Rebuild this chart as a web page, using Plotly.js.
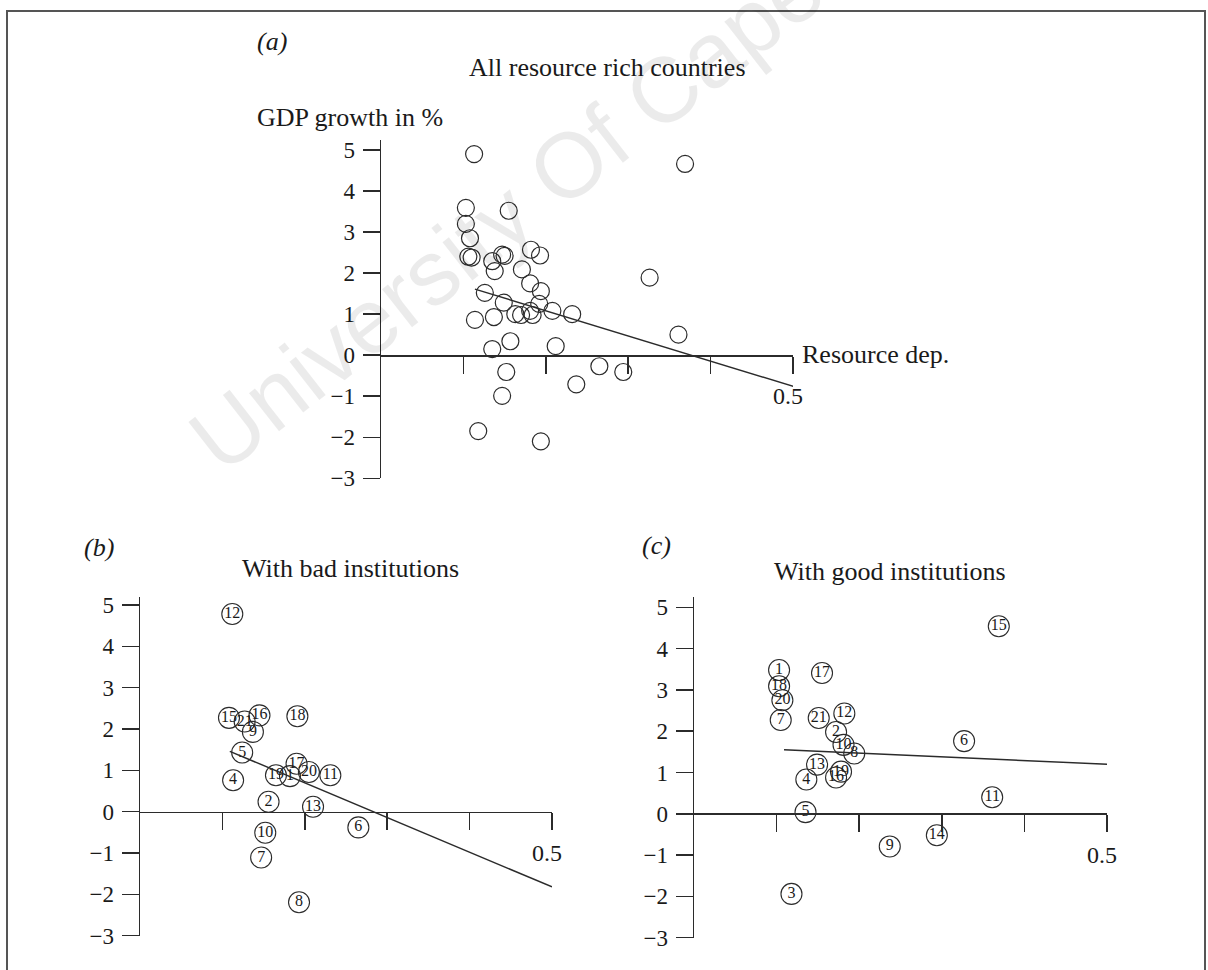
<!DOCTYPE html>
<html><head><meta charset="utf-8">
<script src="https://cdn.plot.ly/plotly-3.0.1.min.js"></script>
<style>html,body{margin:0;padding:0;background:#fff}#chart{width:1208px;height:970px}</style>
</head><body><div id="chart"></div>
<script>
// ---- Panel (a): all resource rich countries ----
const allX = [0.113,0.369,0.103,0.155,0.103,0.108,0.106,0.110,0.147,0.150,0.182,0.193,0.135,0.138,0.171,0.326,0.181,0.194,0.126,0.149,0.192,0.114,0.137,0.163,0.170,0.181,0.184,0.208,0.232,0.361,0.157,0.135,0.212,0.265,0.294,0.152,0.237,0.147,0.118,0.194,0.508,0.544];
const allY = [4.90,4.66,3.59,3.52,3.20,2.85,2.40,2.38,2.45,2.42,2.57,2.43,2.29,2.05,2.09,1.89,1.75,1.56,1.52,1.28,1.25,0.86,0.93,1.00,0.98,1.08,0.98,1.08,1.00,0.50,0.34,0.15,0.22,-0.27,-0.41,-0.41,-0.71,-0.99,-1.85,-2.10,-1.33,-1.73];
const fitAllX = [0.114,0.502];
const fitAllY = [1.61,-0.77];

// ---- Panel (b): bad institutions ----
const badId = ['12','15','21','16','9','18','5','17','19','1','20','11','4','2','13','6','10','7','8','3','14'];
const badX = [0.112,0.108,0.127,0.145,0.137,0.191,0.124,0.190,0.165,0.182,0.205,0.231,0.113,0.156,0.210,0.265,0.152,0.147,0.193,0.508,0.543];
const badY = [4.78,2.27,2.18,2.33,1.93,2.31,1.43,1.16,0.88,0.86,0.96,0.88,0.76,0.24,0.12,-0.38,-0.51,-1.11,-2.19,-1.43,-1.82];
const fitBadX = [0.109,0.500];
const fitBadY = [1.46,-1.82];

// ---- Panel (c): good institutions ----
const goodId = ['15','1','17','18','20','7','21','12','2','10','8','6','13','19','16','4','11','5','14','9','3'];
const goodX = [0.369,0.103,0.155,0.103,0.107,0.105,0.151,0.182,0.172,0.181,0.194,0.327,0.149,0.178,0.172,0.136,0.361,0.135,0.294,0.237,0.118];
const goodY = [4.54,3.48,3.41,3.09,2.75,2.27,2.32,2.43,1.98,1.67,1.46,1.76,1.19,1.02,0.88,0.83,0.40,0.04,-0.52,-0.79,-1.94];
const fitGoodX = [0.109,0.501];
const fitGoodY = [1.55,1.20];

// ---- Axes ticks / texts ----
const yTicks = [-3,-2,-1,0,1,2,3,4,5];
const xTicks = [0.1,0.2,0.3,0.4,0.5];
const xTickText = ['','','','','0.5'];
const panelTitles = ['All resource rich countries','With bad institutions','With good institutions'];
const panelTags = ['(a)','(b)','(c)'];
const yAxisTitle = 'GDP growth in %';
const xAxisTitle = 'Resource dep.';
const watermark = 'University Of Cape Town';

const W = 1208, H = 970;
const px = x => x / W;
const py = y => 1 - y / H;
const INK = '#2b2b2b';
const SERIF = 'Liberation Serif, Times New Roman, serif';

function xax(l, r, y0) {
  return {domain:[px(l),px(r)], range:[0,0.5], anchor:'free', position:py(y0),
    showline:true, linecolor:INK, linewidth:1.5, ticks:'outside', ticklen:17, tickwidth:1.5, tickcolor:INK,
    tickmode:'array', tickvals:xTicks, ticktext:xTickText, showgrid:false, zeroline:false,
    ticklabelstandoff:2, ticklabelshift:-5, tickfont:{family:SERIF, size:24, color:'#1a1a1a'}, fixedrange:true};
}
function yax(b, t, top, anchor) {
  return {domain:[py(b),py(t)], range:[-3, top], anchor:anchor,
    showline:true, linecolor:INK, linewidth:1.5, ticks:'outside', ticklen:17, tickwidth:1.5, tickcolor:INK,
    tickmode:'array', tickvals:yTicks, showgrid:false, zeroline:false,
    ticklabelstandoff:3, tickfont:{family:SERIF, size:23, color:'#1a1a1a'}, fixedrange:true};
}

const traces = [
  {x:allX, y:allY, xaxis:'x', yaxis:'y', mode:'markers', cliponaxis:false,
   marker:{symbol:'circle-open', size:17, color:INK, line:{width:1.2, color:INK}}},
  {x:fitAllX, y:fitAllY, xaxis:'x', yaxis:'y', mode:'lines', cliponaxis:false, line:{color:INK, width:1.5}},
  {x:badX, y:badY, text:badId, xaxis:'x2', yaxis:'y2', mode:'markers+text', cliponaxis:false,
   textposition:'middle center', textfont:{family:SERIF, size:16, color:'#1a1a1a'},
   marker:{symbol:'circle-open', size:21, color:INK, line:{width:1.1, color:INK}}},
  {x:fitBadX, y:fitBadY, xaxis:'x2', yaxis:'y2', mode:'lines', cliponaxis:false, line:{color:INK, width:1.5}},
  {x:goodX, y:goodY, text:goodId, xaxis:'x3', yaxis:'y3', mode:'markers+text', cliponaxis:false,
   textposition:'middle center', textfont:{family:SERIF, size:16, color:'#1a1a1a'},
   marker:{symbol:'circle-open', size:21, color:INK, line:{width:1.1, color:INK}}},
  {x:fitGoodX, y:fitGoodY, xaxis:'x3', yaxis:'y3', mode:'lines', cliponaxis:false, line:{color:INK, width:1.5}}
];

function ann(text, x, y, xanchor, opts) {
  return Object.assign({text:text, xref:'paper', yref:'paper', x:px(x), y:py(y), xanchor:xanchor, yanchor:'middle',
    showarrow:false, font:{family:SERIF, size:26, color:'#1a1a1a'}}, opts||{});
}

const layout = {
  width:W, height:H, margin:{l:0,r:0,t:0,b:0}, paper_bgcolor:'#fff', plot_bgcolor:'rgba(0,0,0,0)',
  showlegend:false,
  xaxis: xax(381, 793, 355),
  yaxis: yax(478.3, 140, 5.244, 'x'),
  xaxis2: xax(140, 552, 811.7),
  yaxis2: yax(935.7, 596.7, 5.20, 'x2'),
  xaxis3: xax(694, 1107, 813.3),
  yaxis3: yax(937.7, 597.3, 5.242, 'x3'),
  shapes: [
    {type:'rect', xref:'paper', yref:'paper', x0:px(7), x1:px(1205), y0:py(1000), y1:py(11), line:{color:'#555', width:2}, layer:'below'}
  ],
  annotations: [
    ann(watermark, 600, 140, 'center', {textangle:-38, font:{family:'Liberation Sans, Arial, sans-serif', size:92, color:'rgba(0,0,0,0.08)'}}),
    ann('<i>'+panelTags[0]+'</i>', 255, 42, 'left'),
    ann(panelTitles[0], 607, 68, 'center'),
    ann(yAxisTitle, 255, 117, 'left'),
    ann(xAxisTitle, 800, 354, 'left'),
    ann('<i>'+panelTags[1]+'</i>', 82, 547, 'left'),
    ann(panelTitles[1], 240, 568, 'left'),
    ann('<i>'+panelTags[2]+'</i>', 640, 545, 'left'),
    ann(panelTitles[2], 772, 571, 'left')
  ]
};

Plotly.newPlot('chart', traces, layout, {staticPlot:true, displayModeBar:false});
</script></body></html>
